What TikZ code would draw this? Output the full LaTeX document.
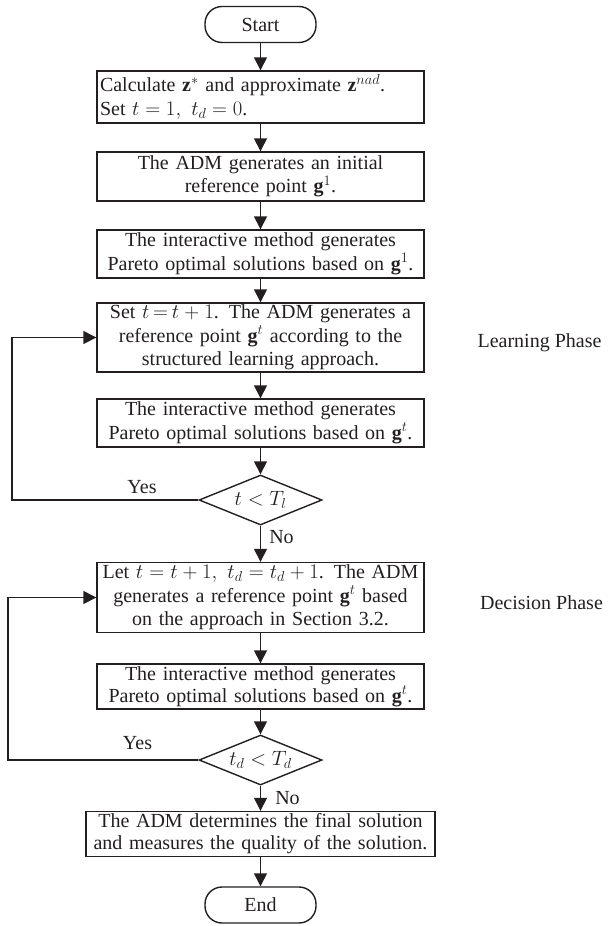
\documentclass[tikz,border=0pt]{standalone}
\usepackage{fontspec}
\setmainfont{Liberation Serif}
\usetikzlibrary{shapes.geometric,arrows.meta}
\usepackage{xcolor}
\definecolor{ink}{HTML}{231F20}

\begin{document}
\begin{tikzpicture}[x=1pt,y=-1pt,
		font=\fontsize{20}{23.5}\selectfont,
		every node/.style={text=ink},
		term/.style={draw=ink,line width=1.4pt,rectangle,rounded corners=17pt,minimum width=111pt,minimum height=36pt,inner sep=0pt},
		proc/.style={draw=ink,line width=1.4pt,rectangle,minimum width=327pt,text width=321pt,inner sep=0pt,align=center},
		test/.style={draw=ink,line width=1.4pt,diamond,aspect=2.46,minimum width=123pt,minimum height=50pt,inner sep=0pt},
		arr/.style={draw=ink,line width=1.4pt,-{Triangle[width=13pt,length=13pt]}}]
		%
		\useasboundingbox (0,0) rectangle (614,926);
		%
		\node[term] (start) at (260.5,24.5) {Start};
		\node[proc,minimum height=52pt,align=left] (calc) at (260.5,97) {Calculate $\mathbf{z}^{*}$ and approximate $\mathbf{z}^{nad}$.\\Set $t=1,\ t_d=0$.};
		\node[proc,minimum height=49pt] (init) at (260.5,176.5) {The ADM generates an initial\\reference point $\mathbf{g}^{1}$.};
		\node[proc,minimum height=48pt] (pareto1) at (260.5,254) {The interactive method generates\\Pareto optimal solutions based on $\mathbf{g}^{1}$.};
		\node[proc,minimum height=69pt] (learn) at (260.5,337.5) {Set $t\!=\!t+1$. The ADM generates a\\reference point $\mathbf{g}^{t}$ according to the\\structured learning approach.};
		\node[proc,minimum height=48pt] (pareto2) at (260.5,423) {The interactive method generates\\Pareto optimal solutions based on $\mathbf{g}^{t}$.};
		\node[test] (testl) at (260.5,500) {$t<T_l$};
		\node[proc,minimum height=70pt] (decide) at (260.5,597.5) {Let $t=t+1,\ t_d=t_d+1$. The ADM\\generates a reference point $\mathbf{g}^{t}$ based\\on the approach in Section 3.2.};
		\node[proc,minimum height=45pt,font=\fontsize{20}{22}\selectfont] (pareto3) at (260.5,686.5) {The interactive method generates\\Pareto optimal solutions based on $\mathbf{g}^{t}$.};
		\node[test] (testd) at (260.5,760) {$t_d<T_d$};
		\node[proc,minimum height=45pt,minimum width=349pt,text width=343pt,font=\fontsize{20}{22}\selectfont] (final) at (260.5,834) {The ADM determines the final solution\\and measures the quality of the solution.};
		\node[term] (end) at (260.5,905) {End};
		%
		\node (yesl) at (142,487) {Yes};
		\node (nol) at (281.5,537) {No};
		\node (yesd) at (137.5,743) {Yes};
		\node (nod) at (287.5,798) {No};
		\node (learnphase) at (539.5,343) {Learning Phase};
		\node (decphase) at (541.5,603) {Decision Phase};
		%
		\coordinate (loopl) at (12,500);
		\coordinate (loopd) at (8,760);
		%
		\draw[arr] (start) -- (calc);
		\draw[arr] (calc) -- (init);
		\draw[arr] (init) -- (pareto1);
		\draw[arr] (pareto1) -- (learn);
		\draw[arr] (learn) -- (pareto2);
		\draw[arr] (pareto2) -- (testl);
		\draw[arr] (testl) -- (decide);
		\draw[arr] (testl.west) -- (loopl) |- (learn.west);
		\draw[arr] (decide) -- (pareto3);
		\draw[arr] (pareto3) -- (testd);
		\draw[arr] (testd) -- (final);
		\draw[arr] (testd.west) -- (loopd) |- (decide.west);
		\draw[arr] (final) -- (end);
	\end{tikzpicture}
\end{document}
